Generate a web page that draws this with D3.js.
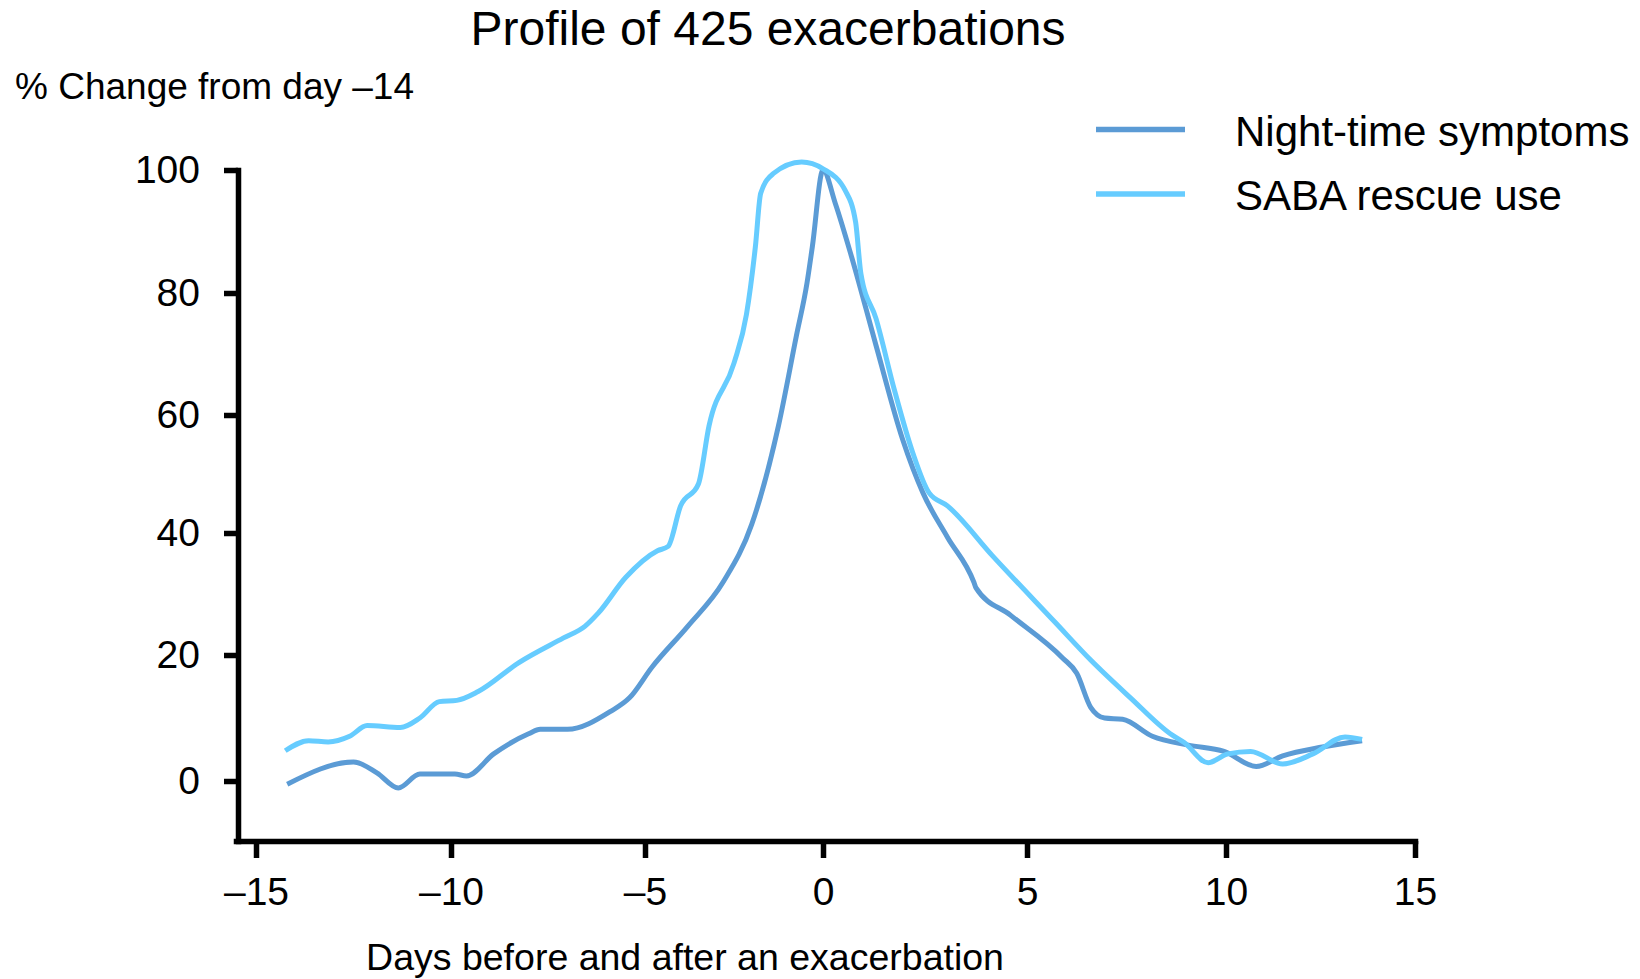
<!DOCTYPE html>
<html>
<head>
<meta charset="utf-8">
<script src="https://cdn.jsdelivr.net/npm/d3@7"></script>
<style>
    body { margin: 0; background: #fff; }
    text { font-family: "Liberation Sans", Arial, sans-serif; fill: #000; }
</style>
</head>
<body>
<div id="chart"></div>
<script>
// values
const nightDays = [-14.2, -12.5, -11.9, -11.35, -10.8, -9.9, -9.6, -8.9, -8.0, -7.7, -7.0, -5.9, -5.4, -4.8, -3.8, -2.8, -2.0, -1.25, -0.75, -0.45, -0.3, 0, 0.3, 0.7, 1.3, 1.95, 2.45, 3.05, 3.7, 3.75, 4.6, 5.9, 6.25, 6.6, 6.95, 7.4, 8.15, 9.05, 9.95, 10.8, 11.5, 12.55, 13.6];
const nightValues = [-0.5, 3.0, 1.3, -1.1, 1.1, 1.1, 0.8, 4.3, 7.5, 8.2, 8.2, 11.0, 13.2, 18.1, 24.7, 32.0, 41.5, 58.2, 72.9, 81.6, 87.5, 100, 94.6, 85.9, 71.4, 55.9, 46.8, 39.3, 31.9, 31.0, 26.5, 19.5, 17.1, 11.7, 10.0, 9.8, 7.1, 5.7, 4.7, 2.3, 4.0, 5.4, 6.4];

const sabaDays = [-14.25, -13.65, -13.15, -12.6, -12.15, -11.3, -10.8, -10.3, -9.85, -9.3, -8.25, -7.1, -6.55, -6.2, -5.5, -4.65, -4.35, -4.0, -3.5, -3.2, -2.5, -2.15, -1.9, -1.75, -1.4, -0.6, 0, 0.55, 0.8, 0.93, 1.3, 1.75, 2.2, 2.6, 3.05, 4.15, 5.7, 6.6, 7.6, 8.6, 8.95, 9.55, 10.05, 10.65, 11.5, 12.3, 13.15, 13.6];
const sabaValues = [4.8, 6.4, 6.2, 7.1, 8.8, 8.5, 10.0, 12.6, 12.8, 14.2, 18.8, 22.8, 24.7, 26.9, 32.7, 37.1, 37.8, 44.6, 48.3, 58.2, 68.5, 76.5, 87.5, 96.2, 99.4, 101.3, 100.2, 96.6, 91.5, 83.1, 75.8, 64.1, 53.6, 46.8, 44.6, 36.3, 25.4, 19.2, 13.2, 7.5, 6.1, 2.9, 4.3, 4.7, 2.7, 4.3, 7.0, 6.6];

const xTicks = [-15, -10, -5, 0, 5, 10, 15];
const yTicks = [0, 20, 40, 60, 80, 100];
const seriesNames = ["Night-time symptoms", "SABA rescue use"];
const seriesColors = ["#5b9bd5", "#66ccff"];

const titleText = "Profile of 425 exacerbations";
const yTitle = "% Change from day \u201314";
const xTitle = "Days before and after an exacerbation";

const svg = d3.select("#chart")
    .append("svg")
    .attr("width", 1640)
    .attr("height", 979);

// the original axis is not quite evenly spaced, so map each tick to its place
const scaleX = d3.scaleLinear()
    .domain([-15.5].concat(xTicks))
    .range([236, 256, 451, 645, 823, 1027, 1226, 1415]);

const scaleY = d3.scaleLinear()
    .domain([-9.5].concat(yTicks))
    .range([841, 781, 655, 533, 415, 293, 170]);

const minus = d => (d < 0 ? "\u2013" + Math.abs(d) : "" + d);

// y axis
const axisY = d3.axisLeft(scaleY)
    .tickValues(yTicks)
    .tickSize(14)
    .tickSizeOuter(0)
    .tickPadding(24)
    .tickFormat(minus);

const gy = svg.append("g")
    .attr("transform", "translate(238,0)")
    .call(axisY);

// x axis
const axisX = d3.axisBottom(scaleX)
    .tickValues(xTicks)
    .tickSize(17)
    .tickSizeOuter(0)
    .tickPadding(19)
    .tickFormat(minus);

const gx = svg.append("g")
    .attr("transform", "translate(0,841)")
    .call(axisX);

[gx, gy].forEach(g => {
    g.select(".domain")
        .attr("stroke", "#000")
        .attr("stroke-width", 5.5)
        .attr("stroke-linecap", "square");
    g.selectAll(".tick line")
        .attr("stroke", "#000")
        .attr("stroke-width", 5.5);
    g.selectAll(".tick text")
        .attr("font-size", "39px")
        .attr("fill", "#000");
});

// lines
const line = d3.line()
    .x(d => scaleX(d[0]))
    .y(d => scaleY(d[1]))
    .curve(d3.curveMonotoneX);

const series = [
    d3.zip(nightDays, nightValues),
    d3.zip(sabaDays, sabaValues)
];

svg.selectAll("path.series")
    .data(series)
    .enter()
    .append("path")
    .attr("class", "series")
    .attr("d", line)
    .attr("fill", "none")
    .attr("stroke", (d, i) => seriesColors[i])
    .attr("stroke-width", 5)
    .attr("stroke-linejoin", "round");

// legend
const legend = svg.append("g");
seriesNames.forEach((name, i) => {
    const y = 129.5 + i * 64.5;
    legend.append("line")
        .attr("x1", 1096).attr("x2", 1185)
        .attr("y1", y).attr("y2", y)
        .attr("stroke", seriesColors[i])
        .attr("stroke-width", 5.5);
    legend.append("text")
        .attr("x", 1235)
        .attr("y", y + 16)
        .attr("font-size", "42px")
        .text(name);
});

// titles
svg.append("text")
    .attr("x", 768)
    .attr("y", 45)
    .attr("text-anchor", "middle")
    .attr("font-size", "48px")
    .text(titleText);

svg.append("text")
    .attr("x", 15)
    .attr("y", 99)
    .attr("font-size", "37px")
    .text(yTitle);

svg.append("text")
    .attr("x", 685)
    .attr("y", 970)
    .attr("text-anchor", "middle")
    .attr("font-size", "37.5px")
    .text(xTitle);
</script>
</body>
</html>
